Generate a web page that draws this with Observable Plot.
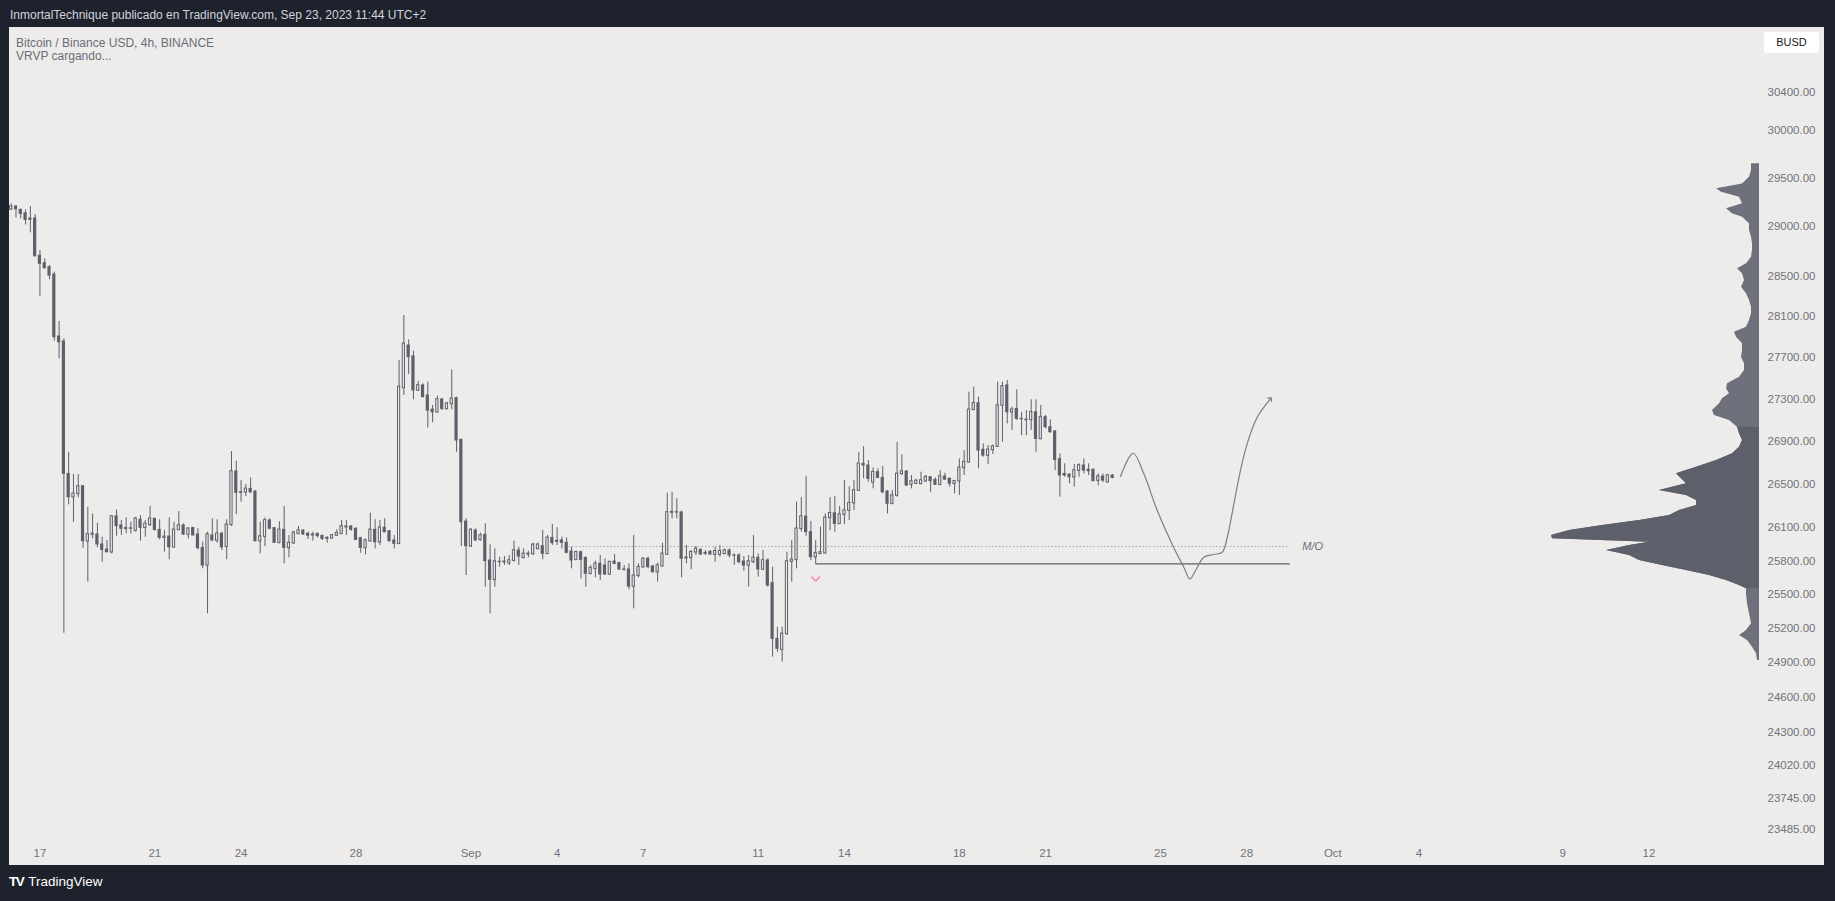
<!DOCTYPE html>
<html>
<head>
<meta charset="utf-8">
<script src="https://cdn.jsdelivr.net/npm/d3@7"></script>
<script src="https://cdn.jsdelivr.net/npm/@observablehq/plot@0.6"></script>
<style>
  html, body { margin: 0; padding: 0; background: #1e222d; width: 1835px; height: 901px; overflow: hidden; }
  #wrap { position: relative; width: 1835px; height: 901px; font-family: "Liberation Sans", Arial, sans-serif; }
  #panel { position: absolute; left: 9px; top: 27px; width: 1815px; height: 838px; background: #edecea; }
  .layer { position: absolute; left: 0; top: 0; }
  #hdr { position: absolute; left: 10px; top: 7px; color: #d1d4dc; font-size: 12px; line-height: 16px; white-space: nowrap; }
  #leg1 { position: absolute; left: 16px; top: 35px; color: #6a6d78; font-size: 12px; line-height: 16px; white-space: nowrap; }
  #leg2 { position: absolute; left: 16px; top: 48px; color: #6a6d78; font-size: 12px; line-height: 16px; white-space: nowrap; }
  #badge { position: absolute; left: 1764px; top: 32px; width: 55px; height: 21px; background: #ffffff; border-radius: 3px;
           color: #131722; font-size: 11px; line-height: 21px; text-align: center; }
  #logo { position: absolute; left: 9px; top: 874px; color: #ffffff; font-size: 13.5px; line-height: 16px; white-space: nowrap; }
  #logo b { font-weight: bold; letter-spacing: -1.5px; margin-right: 5px; font-size: 13.5px; }
</style>
</head>
<body>
<div id="wrap">
  <div id="panel"></div>
  <div id="hdr">InmortalTechnique publicado en TradingView.com, Sep 23, 2023 11:44 UTC+2</div>
  <div id="leg1">Bitcoin / Binance USD, 4h, BINANCE</div>
  <div id="leg2">VRVP cargando...</div>
  <div id="badge">BUSD</div>
  <div id="logo"><b>TV</b>TradingView</div>
</div>
<script>
// ---------------- DATA ----------------
// 4h candles, first candle opens 2023-08-16 00:00 UTC (02:00 UTC+2)
const firstCandle = "2023-08-16T00:00:00Z";
const candleHours = 4;

const open = [29177,29205,29171,29137,29083,29083,28706,28632,28592,28519,27907,27858,26597,26381,26412,26483,25978,26039,26039,25948,
25902,25878,26203,26121,26091,26095,26075,26173,26100,26127,26182,26081,26011,26020,25923,26081,26121,26039,26097,26039,
25917,25758,26030,25984,26045,25929,26127,26619,26427,26427,26458,26433,25978,26020,26167,26097,25963,26081,25917,25960,
26045,26075,26045,26033,26045,26027,26002,26005,26030,26045,26106,26112,26091,26005,25917,25978,26081,25969,26100,26069,
25984,25954,27410,27819,27713,27385,27433,27337,27202,27177,27299,27209,27257,27311,26916,26157,25932,26075,25990,26036,
25803,25629,25791,25788,25779,25803,25893,25827,25860,25863,25908,25932,25863,26008,25975,25984,25963,25884,25809,25878,
25827,25683,25728,25773,25758,25677,25794,25779,25722,25722,25569,25665,25743,25818,25749,25698,25752,25857,26240,26243,
26240,25824,25827,25878,25899,25866,25881,25857,25857,25863,25893,25848,25848,25794,25758,25791,25827,25722,25803,25599,
25105,25009,25149,25794,25809,26091,26203,26060,25833,25863,25869,26191,26233,26136,26221,26258,26326,26443,26691,26675,
26520,26613,26560,26433,26320,26396,26597,26619,26498,26507,26505,26529,26566,26541,26495,26572,26551,26505,26529,26653,
26706,27200,27263,26822,26768,26822,26852,27241,27433,27177,27209,27114,27104,27104,27177,26925,27130,27035,26994,26734,
26597,26591,26566,26628,26675,26635,26635,26535,26572,26520,26582];
const high = [29233,29215,29181,29171,29205,29123,28759,28676,28609,28542,28054,27884,26799,26591,26591,26489,26288,26227,26142,26014,
25984,26212,26264,26167,26191,26151,26197,26212,26167,26295,26188,26173,26075,26191,26151,26249,26136,26100,26106,26091,
25969,26060,26182,26173,26060,26173,26806,26716,26535,26498,26560,26440,26151,26191,26182,26100,26155,26295,26030,26069,
26112,26081,26060,26060,26051,26030,26020,26039,26081,26167,26167,26121,26100,26014,25999,26233,26173,26167,26182,26075,
26030,27674,28113,27874,27764,27471,27449,27465,27241,27331,27305,27273,27583,27321,26916,26182,26090,26090,26051,26136,
25945,25908,25833,25839,25848,25978,25923,25908,25887,25960,25960,26075,26030,26130,26100,26014,26008,25923,25887,25887,
25833,25758,25797,25848,25818,25797,25857,25788,25758,25773,26030,25773,25827,25833,25758,25779,25960,26418,26427,26366,
26252,25939,25893,25929,25908,25893,25893,25923,25939,25908,25908,25863,25863,25839,25848,26030,25863,25893,25818,25743,
25207,25207,25878,25984,26335,26378,26572,26157,25984,26106,26227,26378,26387,26295,26535,26477,26535,26799,26852,26722,
26653,26644,26666,26443,26443,26893,26774,26628,26582,26545,26613,26582,26566,26560,26628,26603,26560,26535,26737,26815,
27369,27417,27321,26878,26862,26868,27465,27465,27481,27225,27391,27177,27193,27296,27296,27241,27146,27104,27004,26784,
26691,26597,26685,26691,26737,26691,26644,26597,26597,26588,26591];
const low = [29164,29090,29079,29018,28938,28695,28300,28572,28466,27861,27690,25154,26310,26151,26375,25914,25608,25999,25917,25788,
25872,25863,26023,26030,26045,26045,26060,25978,26014,26112,26069,25990,25878,25809,25917,26075,26030,25999,26027,25899,
25728,25326,25978,25960,25893,25809,26112,26221,26335,26387,26412,25970,25863,25929,26081,25960,25954,25773,25827,25948,
26039,26030,25993,25978,26008,25984,25960,25999,26020,26039,26030,26069,25984,25869,25854,25969,25908,25939,26054,25969,
25908,25948,27337,27539,27296,27378,27315,27026,27076,27171,27193,27200,27200,26799,25929,25668,25920,25978,25978,25563,
25326,25563,25743,25758,25758,25788,25758,25818,25827,25848,25899,25809,25857,25939,25939,25908,25863,25728,25803,25638,
25563,25674,25647,25623,25668,25668,25764,25713,25707,25539,25370,25647,25734,25728,25689,25608,25743,25848,26182,26182,
25647,25773,25719,25848,25848,25848,25848,25788,25833,25857,25827,25758,25773,25707,25563,25773,25653,25713,25563,24945,
24988,24901,25134,25608,25728,26060,26023,25803,25773,25857,25863,26075,26060,26130,26130,26167,26258,26433,26551,26520,
26458,26551,26412,26227,26313,26381,26582,26480,26458,26498,26495,26520,26427,26489,26489,26535,26474,26412,26396,26582,
26697,27193,26644,26753,26685,26778,26846,26893,27066,27004,27098,26956,26956,27004,26799,26916,27020,26978,26628,26381,
26567,26505,26474,26566,26597,26582,26526,26486,26517,26514,26551];
const close = [29205,29177,29130,29069,29069,28702,28626,28582,28509,27900,27851,26597,26381,26412,26480,25978,26039,26045,25948,25899,
25878,26203,26115,26091,26095,26091,26182,26100,26136,26182,26081,26008,26017,25923,26081,26121,26039,26091,26030,25914,
25758,26039,25984,26045,25923,26127,26619,26421,26421,26458,26427,25978,26020,26167,26091,25963,26081,25917,25960,26054,
26075,26039,26027,26036,26024,25999,26005,26030,26051,26112,26109,26081,25990,25917,25984,26081,25969,26100,26060,25978,
25954,27417,27836,27706,27385,27433,27321,27193,27177,27299,27209,27257,27305,26909,26151,25932,26081,25984,26030,25797,
25629,25794,25788,25791,25803,25893,25839,25863,25863,25945,25945,25863,26008,25960,25978,25963,25872,25803,25878,25809,
25683,25734,25773,25677,25677,25788,25773,25722,25719,25569,25665,25743,25818,25743,25698,25758,25863,26240,26243,26240,
25818,25827,25878,25908,25857,25869,25857,25887,25887,25893,25848,25845,25788,25758,25794,25827,25722,25803,25578,25105,
25018,25149,25794,25809,26091,26203,26060,25833,25869,25875,26191,26233,26136,26221,26258,26326,26443,26691,26675,26551,
26613,26560,26427,26320,26396,26597,26619,26489,26526,26532,26535,26566,26529,26495,26572,26544,26505,26529,26653,26706,
27200,27263,26815,26768,26822,26852,27241,27424,27177,27200,27114,27111,27104,27177,26925,27130,27035,26988,26728,26582,
26582,26566,26628,26675,26628,26622,26529,26572,26535,26582,26560];

// Visible-range volume profile (price level, relative volume)
const vpPrice = [29645,29576,29506,29438,29387,29352,29301,29233,29182,29131,29097,29029,28961,28894,28827,28759,28692,28626,28576,28526,
28459,28393,28327,28261,28195,28130,28064,27998,27949,27900,27836,27771,27706,27642,27577,27513,27449,27401,27353,27305,
27258,27194,27146,27099,27035,26973,26910,26847,26784,26722,26659,26598,26551,26505,26443,26397,26350,26304,26258,26212,
26167,26121,26075,26030,26000,25969,25939,25894,25848,25803,25758,25713,25668,25623,25579,25549,25504,25415,25326,25238,
25178,25135,25091,25032,24974,24916];
const vpVol = [8,8,10,17,43,38,20,17,33,27,17,10,10,8,7,7,8,13,22,17,
15,18,13,10,8,8,10,13,25,23,17,17,18,15,15,20,32,33,30,37,
40,47,45,30,22,20,17,20,27,43,63,83,78,73,100,73,63,63,80,90,
120,157,190,208,207,110,130,153,130,120,97,73,50,33,20,13,13,12,10,8,
13,20,12,7,3,2];
const valueAreaHigh = 27040;
const valueAreaLow = 25545;

// Axis ticks
const yTicks = [30400,30000,29500,29000,28500,28100,27700,27300,26900,26500,26100,25800,25500,25200,24900,24600,24300,24020,23745,23485];
const xTickDates = ["2023-08-17","2023-08-21","2023-08-24","2023-08-28","2023-09-01","2023-09-04","2023-09-07","2023-09-11","2023-09-14",
  "2023-09-18","2023-09-21","2023-09-25","2023-09-28","2023-10-01","2023-10-04","2023-10-09","2023-10-12"];
const xTickLabels = ["17","21","24","28","Sep","4","7","11","14","18","21","25","28","Oct","4","9","12"];

// Drawings
const moLevel = 25930;           // dotted "M/O" level
const moFrom = "2023-09-04T07:00:00Z";
const lineTo = "2023-09-29T12:30:00Z";
const supportLevel = 25773;      // solid line
const supportFrom = "2023-09-13T00:00:00Z";
const moLabelAt = "2023-09-29T22:30:00Z";
const markerAt = "2023-09-13T00:00:00Z";
const markerPrice = 25638;
const projDates = ["2023-09-23T14:36Z","2023-09-24T01:12Z","2023-09-24T10:06Z","2023-09-24T21:18Z","2023-09-25T10:54Z","2023-09-25T19:30Z",
  "2023-09-26T00:30Z","2023-09-26T05:18Z","2023-09-26T12:12Z","2023-09-26T20:36Z","2023-09-27T03:36Z","2023-09-27T07:48Z",
  "2023-09-27T13:18Z","2023-09-27T18:48Z","2023-09-28T00:24Z","2023-09-28T08:48Z","2023-09-28T19:54Z"];
const projPrices = [26573,26790,26598,26258,25923,25743,25638,25713,25833,25857,25878,26014,26320,26628,26878,27130,27305];

// ---------------- BUILD ----------------
const HOUR = 3600e3;
const t0 = +new Date(firstCandle);
const candles = open.map((o, i) => ({
  date: new Date(t0 + i * candleHours * HOUR), open: o, high: high[i], low: low[i], close: close[i]
}));
const bull = candles.filter(d => d.close >= d.open);
const bear = candles.filter(d => d.close < d.open);
const proj = projDates.map((d, i) => ({date: new Date(d), price: projPrices[i]}));
const vp = vpPrice.map((p, i) => ({price: p, vol: vpVol[i]}));

const W = 1835, H = 901, mL = 9, mR = 76, mT = 28, mB = 63;
const xDomain = [new Date(t0 - 1.42 * HOUR), new Date(t0 + 1460.37 * HOUR)];
const yDomain = [23411, 31083];
const ink = "#5d606b", bg = "#edecea";
const font = "'Liberation Sans', Arial, sans-serif";

const chevron = {
  draw(ctx, size) {
    const r = Math.sqrt(size / Math.PI);
    ctx.moveTo(-r, -r * 0.5);
    ctx.lineTo(0, r * 0.5);
    ctx.lineTo(r, -r * 0.5);
  }
};

const profile = Plot.plot({
  width: W, height: H, marginLeft: mL, marginRight: mR, marginTop: mT, marginBottom: mB,
  style: {background: "transparent"},
  x: {domain: [1750, 0], axis: null},
  y: {type: "log", domain: yDomain, axis: null},
  marks: [
    Plot.areaX(vp, {x1: 0, x2: "vol", y: "price", fill: "#6e717c", curve: "linear"}),
    Plot.areaX(vp.filter(d => d.price >= valueAreaLow && d.price <= valueAreaHigh),
      {x1: 0, x2: "vol", y: "price", fill: ink, curve: "linear"})
  ]
});

const tickMap = new Map(xTickDates.map((d, i) => [+new Date(d), xTickLabels[i]]));

const main = Plot.plot({
  width: W, height: H, marginLeft: mL, marginRight: mR, marginTop: mT, marginBottom: mB,
  style: {background: "transparent", fontFamily: font, fontSize: "11.5px", color: "#6f727d"},
  x: {type: "utc", domain: xDomain, ticks: xTickDates.map(d => new Date(d)),
      tickFormat: d => tickMap.get(+d), tickSize: 0, tickPadding: 10, label: null},
  y: {type: "log", domain: yDomain, ticks: yTicks, tickFormat: d => d.toFixed(2),
      axis: "right", tickSize: 0, tickPadding: 8, label: null},
  marks: [
    Plot.ruleY([{price: moLevel, from: new Date(moFrom), to: new Date(lineTo)}],
      {y: "price", x1: "from", x2: "to", stroke: "#a6a8b0", strokeWidth: 1, strokeDasharray: "1.5,2"}),
    Plot.ruleY([{price: supportLevel, from: new Date(supportFrom), to: new Date(lineTo)}],
      {y: "price", x1: "from", x2: "to", stroke: ink, strokeWidth: 1.3}),
    Plot.ruleX(candles, {x: "date", y1: "low", y2: "high", stroke: ink, strokeWidth: 1}),
    Plot.rect(bear, {x1: "date", x2: "date", y1: "open", y2: "close", fill: ink,
      insetLeft: -1.6, insetRight: -1.6, insetTop: -0.5, insetBottom: -0.5}),
    Plot.rect(bull, {x1: "date", x2: "date", y1: "open", y2: "close", fill: bg, stroke: ink, strokeWidth: 1,
      insetLeft: -1.1, insetRight: -1.1, insetTop: -0.3, insetBottom: -0.3}),
    Plot.line(proj, {x: "date", y: "price", curve: "catmull-rom", stroke: "#7b7e88", strokeWidth: 1.2, markerEnd: "arrow"}),
    Plot.dot([{date: new Date(markerAt), price: markerPrice}],
      {x: "date", y: "price", symbol: chevron, r: 4.3, fill: "none", stroke: "#ec8fab", strokeWidth: 1.6}),
    Plot.text([{date: new Date(moLabelAt), price: moLevel, label: "M/O"}],
      {x: "date", y: "price", text: "label", fontStyle: "italic", fontSize: 11, fill: "#6a6d78", textAnchor: "start"})
  ]
});

profile.classList.add("layer");
main.classList.add("layer");
const panel = document.getElementById("panel");
panel.after(profile);
profile.after(main);
</script>
</body>
</html>
